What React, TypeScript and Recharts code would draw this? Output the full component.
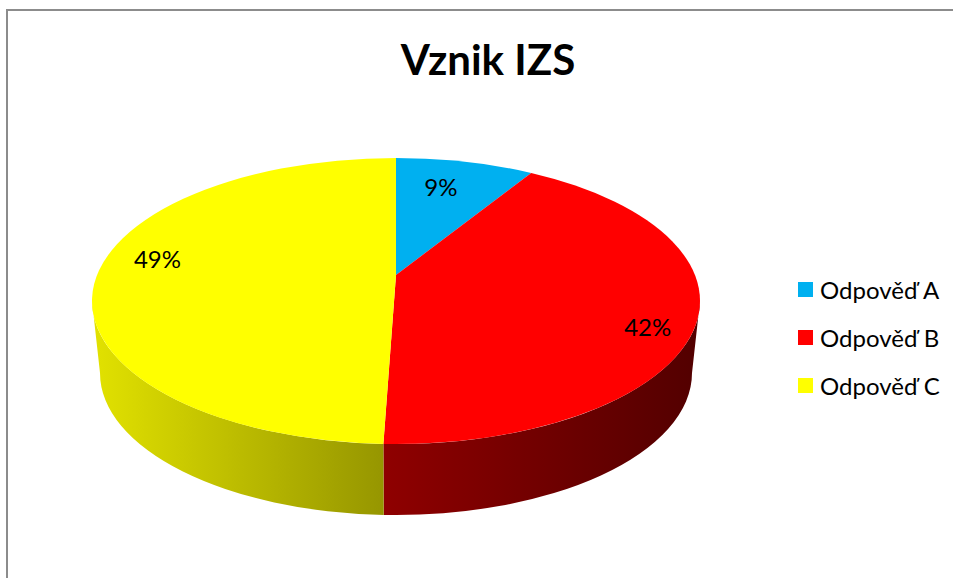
import React from "react";
import { PieChart, Pie, Cell, Legend } from "recharts";

const categories = ["Odpověď A", "Odpověď B", "Odpověď C"];
const shares = [8.75, 41.8, 49.45];
const colors = ["#00b0f0", "#ff0000", "#ffff00"];
const wallStops = [
    ["#007aa8", "#007aa8"],
    ["#8f0000", "#520000"],
    ["#e2e200", "#969600"],
];
const labelNudge = [
    [-9, 0],
    [-3, 16],
    [0, -15],
];

const chartData = categories.map((name, i) => ({ name, value: shares[i], fill: colors[i] }));

// perspective of the tilted disc
const PERSPECTIVE = 0.1818;
const FLATTEN = 0.4627;
const TOP = { dy: 26, rx: 304, ry: 143 };
const BOTTOM = { dy: 98, rx: 296, ry: 142 };
const FONT = "Lato, 'Open Sans', sans-serif";

function project(cx: number, cy: number, r: number, angle: number, reach = 1) {
    const rad = (angle * Math.PI) / 180;
    const X = Math.cos(rad) * reach;
    const Y = Math.sin(rad) * reach;
    const w = 1 + PERSPECTIVE * Y;
    return { x: cx + (r * X) / w, y: cy - (r * FLATTEN * Y) / w };
}

function rimAngle(cy: number, pt: { x: number; y: number }, cx: number) {
    const deg = (Math.atan2((pt.x - cx) / TOP.rx, (cy + TOP.dy - pt.y) / TOP.ry) * 180) / Math.PI;
    return (deg + 360) % 360;
}

function rim(cx: number, cy: number, e: typeof TOP, p: number) {
    const rad = (p * Math.PI) / 180;
    return { x: cx + e.rx * Math.sin(rad), y: cy + e.dy - e.ry * Math.cos(rad) };
}

function SliceShape(props: any) {
    const { cx, cy, outerRadius, startAngle, endAngle, fill, index } = props;
    const p0 = rimAngle(cy, project(cx, cy, outerRadius, startAngle), cx);
    let p1 = rimAngle(cy, project(cx, cy, outerRadius, endAngle), cx);
    if (p1 <= p0) p1 += 360;
    // snap the ends onto the ellipse so the arc keeps its centre
    const a = rim(cx, cy, TOP, p0);
    const b = rim(cx, cy, TOP, p1);
    const large = p1 - p0 > 180 ? 1 : 0;
    const face = `M${cx},${cy} L${a.x},${a.y} A${TOP.rx},${TOP.ry} 0 ${large} 1 ${b.x},${b.y} Z`;

    const w0 = Math.max(p0, 90);
    const w1 = Math.min(p1, 270);
    let wall = null;
    if (w1 > w0) {
        const t0 = rim(cx, cy, TOP, w0);
        const t1 = rim(cx, cy, TOP, w1);
        const b0 = rim(cx, cy, BOTTOM, w0);
        const b1 = rim(cx, cy, BOTTOM, w1);
        const id = `wall-${index}`;
        // gradient runs left to right on screen
        const left = Math.min(t0.x, t1.x, b0.x, b1.x);
        const right = Math.max(t0.x, t1.x, b0.x, b1.x);
        wall = (
            <g>
                <defs>
                    <linearGradient id={id} gradientUnits="userSpaceOnUse" x1={left} y1="0" x2={right} y2="0">
                        <stop offset="0%" stopColor={wallStops[index][0]} />
                        <stop offset="100%" stopColor={wallStops[index][1]} />
                    </linearGradient>
                </defs>
                <path
                    d={`M${t0.x},${t0.y} A${TOP.rx},${TOP.ry} 0 0 1 ${t1.x},${t1.y} L${b1.x},${b1.y} A${BOTTOM.rx},${BOTTOM.ry} 0 0 0 ${b0.x},${b0.y} Z`}
                    fill={`url(#${id})`}
                />
            </g>
        );
    }
    return (
        <g>
            {wall}
            <path d={face} fill={fill} />
        </g>
    );
}

function renderLabel(props: any) {
    const { cx, cy, outerRadius, midAngle, percent, index } = props;
    const reach = [0.75, 0.85, 0.8][index];
    const pt = project(cx, cy, outerRadius, midAngle, reach);
    return (
        <text
            x={pt.x + labelNudge[index][0]}
            y={pt.y + labelNudge[index][1]}
            textAnchor="middle"
            dominantBaseline="central"
            fill="#000"
            fontFamily={FONT}
            fontSize={24}
        >
            {`${Math.round(percent * 100)}%`}
        </text>
    );
}

function renderLegend({ payload }: any) {
    return (
        <div style={{ fontFamily: FONT, fontSize: 24, color: "#000" }}>
            {payload.map((entry: any) => (
                <div key={entry.value} style={{ display: "flex", alignItems: "center", height: 48 }}>
                    <span style={{ width: 15, height: 15, background: entry.color, marginRight: 7 }} />
                    <span>{entry.value}</span>
                </div>
            ))}
        </div>
    );
}

export default function App() {
    return (
        <div style={{ position: "absolute", left: 0, top: 0, width: 953, height: 578, background: "#fff", overflow: "hidden" }}>
            <div
                style={{
                    position: "absolute",
                    left: 6,
                    top: 9,
                    right: 0,
                    bottom: 0,
                    borderLeft: "2px solid #8c8c8c",
                    borderTop: "2px solid #8c8c8c",
                }}
            />
            <PieChart
                width={953}
                height={578}
                margin={{ top: 0, right: 0, bottom: 0, left: 0 }}
                style={{ position: "absolute", left: 0, top: 0 }}
            >
                <text x={488} y={75} textAnchor="middle" fontFamily={FONT} fontWeight={700} fontSize={42} fill="#000">
                    Vznik IZS
                </text>
                <Pie
                    data={chartData}
                    dataKey="value"
                    nameKey="name"
                    cx={396}
                    cy={275}
                    outerRadius={299}
                    startAngle={90}
                    endAngle={-270}
                    stroke="none"
                    shape={SliceShape}
                    label={renderLabel}
                    labelLine={false}
                    isAnimationActive={false}
                >
                    {chartData.map((d) => (
                        <Cell key={d.name} fill={d.fill} />
                    ))}
                </Pie>
                <Legend
                    layout="vertical"
                    align="right"
                    verticalAlign="top"
                    content={renderLegend}
                    wrapperStyle={{ left: 798, top: 265, width: 155 }}
                />
            </PieChart>
        </div>
    );
}
